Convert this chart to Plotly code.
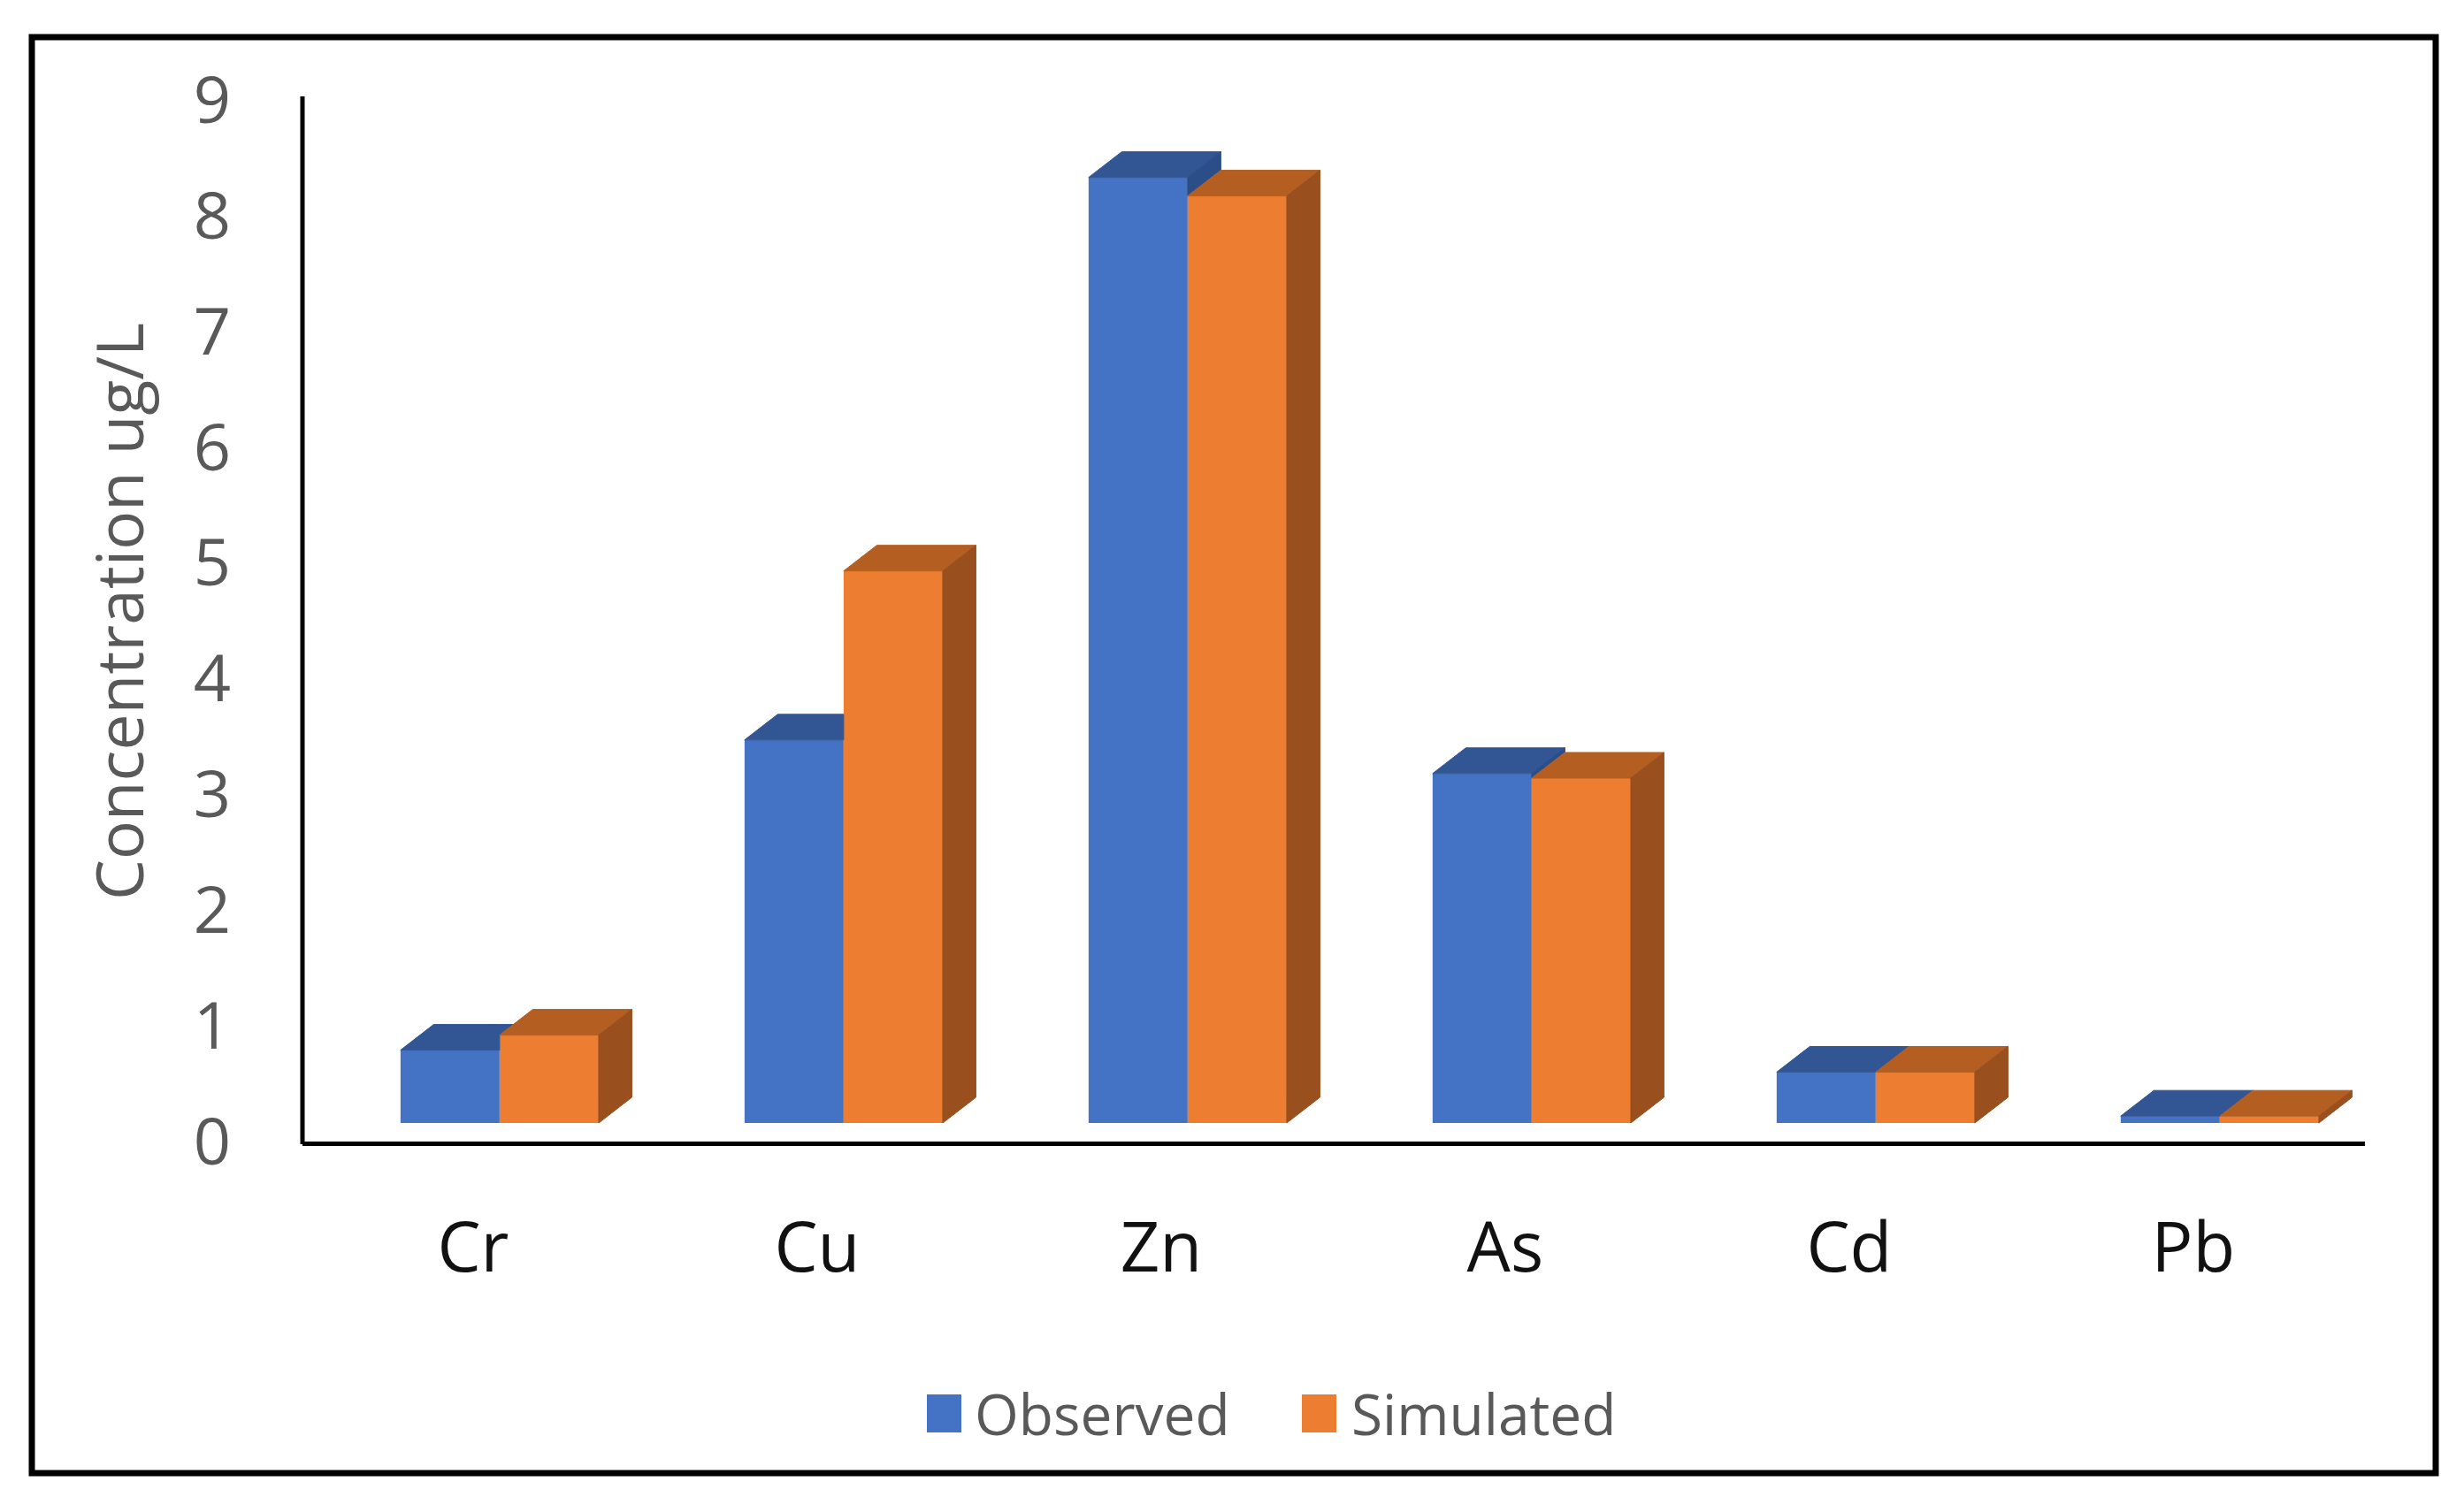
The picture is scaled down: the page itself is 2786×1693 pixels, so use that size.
import plotly.graph_objects as go

# ---------------- data ----------------
categories = ["Cr", "Cu", "Zn", "As", "Cd", "Pb"]
observed = [0.63, 3.31, 8.17, 3.02, 0.44, 0.06]
simulated = [0.76, 4.77, 8.01, 2.98, 0.44, 0.06]
series_names = ["Observed", "Simulated"]
y_ticks = [0, 1, 2, 3, 4, 5, 6, 7, 8, 9]
y_title = "Concentration ug/L"

# ---------------- style ----------------
BLUE_FRONT, BLUE_TOP, BLUE_SIDE = "#4472C4", "#325693", "#2B4D88"
ORANGE_FRONT, ORANGE_TOP, ORANGE_SIDE = "#ED7D31", "#B45E21", "#994F1E"
GREY = "#595959"
FONT = "Open Sans"

W, H = 2786, 1693
PLOT_L, PLOT_R, PLOT_T, PLOT_B = 342, 2674, 92, 1291
Y_MIN, Y_MAX = -0.16, 9.0
X_MIN, X_MAX = -0.573, 5.422
BAR_W = 0.288
DX = 0.0964
DY = 0.2215
K = DY / DX


def px_x(p):
    return (p - PLOT_L) / (PLOT_R - PLOT_L)


def px_y(p):
    return (PLOT_B - p) / (PLOT_B - PLOT_T)


fig = go.Figure()
idx = list(range(len(categories)))

fig.add_trace(go.Bar(x=idx, y=observed, width=BAR_W, offset=-BAR_W, name=series_names[0],
                     marker=dict(color=BLUE_FRONT, line=dict(width=0)), showlegend=False))
fig.add_trace(go.Bar(x=idx, y=simulated, width=BAR_W, offset=0, name=series_names[1],
                     marker=dict(color=ORANGE_FRONT, line=dict(width=0)), showlegend=False))


def poly(xs, ys, color):
    fig.add_trace(go.Scatter(x=xs + [xs[0]], y=ys + [ys[0]], fill="toself", fillcolor=color,
                             mode="lines", line=dict(color=color, width=1),
                             hoverinfo="skip", showlegend=False))


# 3-D extrusion faces, computed from the values
for i, (h1, h2) in enumerate(zip(observed, simulated)):
    c = i
    xl = c - BAR_W
    xr2 = c + BAR_W
    if h1 >= h2:
        poly([xl, xl + DX, c + DX, c], [h1, h1 + DY, h1 + DY, h1], BLUE_TOP)
        if h1 > h2:
            poly([c, c, c + DX, c + DX], [h2, h1, h1 + DY, h2 + DY], BLUE_SIDE)
    else:
        xs = c + max(0.0, h1 + DY - h2) / K
        poly([xl, xl + DX, xs, c, c], [h1, h1 + DY, h1 + DY, min(h2, h1 + DY), h1], BLUE_TOP)
    poly([c, c + DX, xr2 + DX, xr2], [h2, h2 + DY, h2 + DY, h2], ORANGE_TOP)
    poly([xr2, xr2, xr2 + DX, xr2 + DX], [0, h2, h2 + DY, DY], ORANGE_SIDE)

shapes = []
annotations = []

# outer frame
shapes.append(dict(type="rect", xref="paper", yref="paper",
                   x0=px_x(36), x1=px_x(2754), y0=px_y(1666), y1=px_y(42),
                   line=dict(color="black", width=7), fillcolor="rgba(0,0,0,0)", layer="below"))
# vertical axis line
shapes.append(dict(type="line", xref="paper", yref="paper",
                   x0=px_x(342), x1=px_x(342), y0=px_y(1294), y1=px_y(109),
                   line=dict(color="black", width=5)))

# legend (manual, to match the large swatches)
legend_items = [(series_names[0], BLUE_FRONT, 1048, 1100), (series_names[1], ORANGE_FRONT, 1472, 1526)]
for name, col, sx, tx in legend_items:
    shapes.append(dict(type="rect", xref="paper", yref="paper",
                       x0=px_x(sx), x1=px_x(sx + 39), y0=px_y(1620), y1=px_y(1577),
                       fillcolor=col, line=dict(width=0)))
    annotations.append(dict(text=name, xref="paper", yref="paper", x=px_x(tx), y=px_y(1598),
                            xanchor="left", yanchor="middle", showarrow=False,
                            font=dict(family=FONT, size=64, color=GREY)))

fig.update_layout(
    width=W, height=H,
    margin=dict(l=PLOT_L, r=W - PLOT_R, t=PLOT_T, b=H - PLOT_B, pad=0),
    paper_bgcolor="white", plot_bgcolor="white",
    barmode="overlay",
    showlegend=False,
    shapes=shapes,
    annotations=annotations,
    xaxis=dict(range=[X_MIN, X_MAX], tickvals=idx, ticktext=categories,
               showgrid=False, zeroline=False, ticks="",
               showline=True, linecolor="black", linewidth=5,
               tickfont=dict(family=FONT, size=78, color="#111111"),
               ticklabelshift=-30, ticklabelstandoff=48),
    yaxis=dict(range=[Y_MIN, Y_MAX], tickvals=y_ticks,
               showgrid=False, zeroline=False, ticks="", showline=False,
               tickfont=dict(family=FONT, size=74, color=GREY),
               ticklabelshift=21, ticklabelstandoff=80,
               title=dict(text=y_title, font=dict(family=FONT, size=73, color=GREY), standoff=32)),
)

fig.write_html("out.html", config={"displayModeBar": False},
               post_script="document.body.style.margin='0';document.body.style.overflow='hidden';")
